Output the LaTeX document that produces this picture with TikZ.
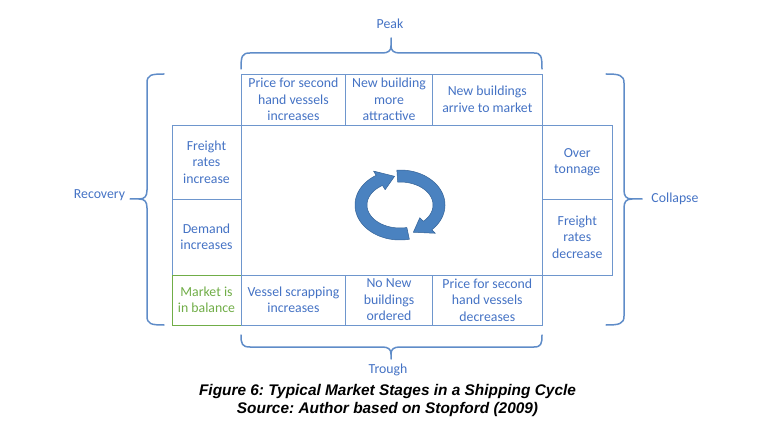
\documentclass[tikz,border=0pt]{standalone}
\usepackage{fontspec}
\setmainfont{Carlito}
\newfontfamily\capfont{Liberation Sans}
\definecolor{txtblue}{RGB}{68,114,196}
\definecolor{lineblue}{RGB}{110,150,205}
\definecolor{bracecol}{RGB}{95,140,200}
\definecolor{mktgreen}{RGB}{112,173,71}
\definecolor{arrowfill}{RGB}{74,130,192}
\definecolor{arrowedge}{RGB}{52,98,150}
\frenchspacing
\begin{document}
\begin{tikzpicture}[x=1pt,y=-1pt,
  cell/.style={draw=lineblue, line width=0.8pt, rectangle, inner sep=0pt, outer sep=0pt,
    align=center, text=txtblue, font=\fontsize{13.8}{16.5}\selectfont},
  greencell/.style={cell, draw=mktgreen, text=mktgreen},
  lbl/.style={text=txtblue, font=\fontsize{13.8}{16.5}\selectfont, inner sep=0pt},
  bracestyle/.style={draw=bracecol, line width=1.5pt, line cap=round, line join=round},
  cyclearrow/.style={fill=arrowfill, draw=arrowedge, line width=0.5pt, line join=round},
  captxt/.style={font=\capfont\bfseries\itshape\fontsize{15.4}{18}\selectfont, inner sep=0pt}]
\useasboundingbox (0,0) rectangle (773,435);

% centre area
\node[cell, minimum width=301.3pt, minimum height=150pt] (c) at (391.8,200) {};

% top row
\node[cell, minimum width=104.7pt, minimum height=51pt] (t1) at (293.4,99.5) {Price for second\\hand vessels\\increases};
\node[cell, minimum width=86.6pt, minimum height=51pt] (t2) at (389,99.5) {New building\\more\\attractive};
\node[cell, minimum width=110pt, minimum height=51pt] (t3) at (487.3,99.5) {New buildings\\arrive to market};

% left column
\node[cell, minimum width=69pt, minimum height=74pt] (l1) at (206.5,162) {Freight\\rates\\increase};
\node[cell, minimum width=69pt, minimum height=76pt] (l2) at (206.5,237) {Demand\\increases};
\node[greencell, minimum width=69pt, minimum height=50pt] (l3) at (206.5,300) {Market is\\in balance};

% bottom row
\node[cell, minimum width=104.7pt, minimum height=50pt] (b1) at (293.4,300) {Vessel scrapping\\increases};
\node[cell, minimum width=86.6pt, minimum height=50pt] (b2) at (389,300) {No New\\buildings\\ordered};
\node[cell, minimum width=110pt, minimum height=50pt] (b3) at (487.3,300) {Price for second\\hand vessels\\decreases};

% right column
\node[cell, minimum width=70pt, minimum height=74pt] (r1) at (577.3,162) {Over\\tonnage};
\node[cell, minimum width=70pt, minimum height=76pt] (r2) at (577.3,237) {Freight\\rates\\decrease};

% braces
\draw[bracestyle] (241,69) .. controls (241,56) and (242,53) .. (250,53) -- (382,53)
  .. controls (388,53) and (391,51) .. (391,46) -- (391,38);
\draw[bracestyle] (391,46) .. controls (391,51) and (394,53) .. (400,53) -- (534,53)
  .. controls (541,53) and (542,56) .. (542,69);

\draw[bracestyle] (241,335) .. controls (241,344) and (242,347) .. (250,347) -- (382,347)
  .. controls (388,347) and (391,349) .. (391,354) -- (391,359);
\draw[bracestyle] (391,354) .. controls (391,349) and (394,347) .. (400,347) -- (534,347)
  .. controls (541,347) and (542,344) .. (542,335);

\draw[bracestyle] (164,74) .. controls (151,74) and (147,75) .. (147,83) -- (147,190)
  .. controls (147,196) and (145,199) .. (139,199) -- (130,199);
\draw[bracestyle] (139,199) .. controls (145,199) and (147,202) .. (147,208) -- (147,316)
  .. controls (147,324) and (151,325) .. (164,325);

\draw[bracestyle] (606,74) .. controls (619,74) and (624,75) .. (624,83) -- (624,190)
  .. controls (624,196) and (626,199) .. (632,199) -- (642,199);
\draw[bracestyle] (632,199) .. controls (626,199) and (624,202) .. (624,208) -- (624,316)
  .. controls (624,324) and (619,325) .. (606,325);

% brace labels
\node[lbl] (peak) at (390,24) {Peak};
\node[lbl] (trough) at (388,370) {Trough};
\node[lbl] (recovery) at (99.5,195) {Recovery};
\node[lbl] (collapse) at (675,199) {Collapse};

% cycle arrows
\path[cyclearrow] plot[domain=78:238,samples=60] ({400+45*cos(\x)},{205+35*sin(\x)})
  -- ({400+50*cos(238)},{205+40*sin(238)})
  -- ({400+39*cos(262)},{205+29*sin(262)})
  -- ({400+28*cos(238)},{205+18*sin(238)})
  -- plot[domain=238:78,samples=60] ({400+33*cos(\x)},{205+23*sin(\x)}) -- cycle;
\path[cyclearrow] plot[domain=266:405,samples=60] ({400+45*cos(\x)},{205+35*sin(\x)})
  -- ({400+50*cos(405)},{205+40*sin(405)})
  -- ({400+39*cos(430)},{205+29*sin(430)})
  -- ({400+28*cos(405)},{205+18*sin(405)})
  -- plot[domain=405:266,samples=60] ({400+33*cos(\x)},{205+23*sin(\x)}) -- cycle;

% caption
\node[captxt] (cap1) at (387.5,392) {Figure 6: Typical Market Stages in a Shipping Cycle};
\node[captxt] (cap2) at (387.5,409.5) {Source: Author based on Stopford (2009)};
\end{tikzpicture}
\end{document}
